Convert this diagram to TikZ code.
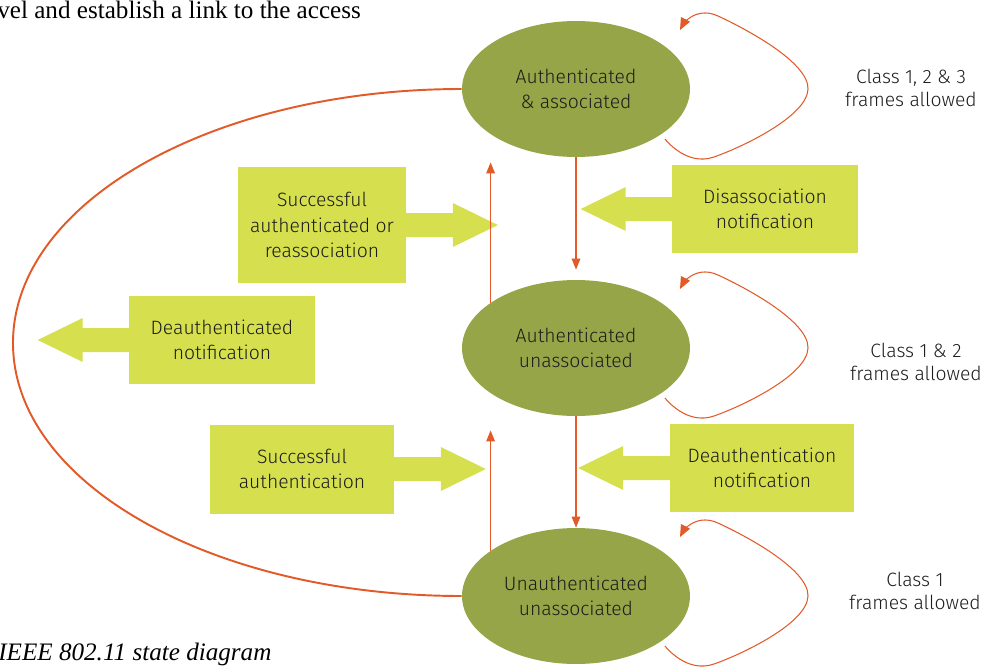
\documentclass[tikz,border=0pt]{standalone}
\usepackage{fontspec}
\setmainfont{Liberation Serif}
\newfontfamily\labelfont{Fira Sans}[UprightFont=* Light]
\usetikzlibrary{arrows.meta, calc, shapes.geometric}

\definecolor{stateolive}{RGB}{150,165,72}
\definecolor{notelime}{RGB}{214,224,78}
\definecolor{linkorange}{RGB}{226,90,40}
\definecolor{labelgray}{RGB}{28,28,28}

\tikzset{
    state/.style={ellipse, fill=stateolive, minimum width=4.56cm, minimum height=2.72cm,
        inner sep=0pt, align=center, text=labelgray, font=\labelfont\fontsize{11}{14.3}\selectfont},
    note/.style={fill=notelime, inner sep=0pt, align=center, text=labelgray,
        font=\labelfont\fontsize{11}{14.3}\selectfont},
    info/.style={align=center, text=labelgray, font=\labelfont\fontsize{11}{12.8}\selectfont},
    trans/.style={draw=linkorange, line width=0.85pt, -{Triangle[length=0.22cm, width=0.17cm]}},
    stayloop/.style={draw=linkorange, line width=0.6pt, -{Triangle[length=0.24cm, width=0.2cm]}}
}

% block arrow leaving a note box: #1 anchor, #2 direction (1 right, -1 left)
\newcommand{\notearrow}[2]{%
    \fill[notelime] (#1) ++({-2*(#2)},-12) -- ++({48*(#2)},0) -- ++(0,-10)
        -- ++({45*(#2)},22) -- ++({-45*(#2)},22) -- ++(0,-10) -- ++({-48*(#2)},0) -- cycle;}

\begin{document}
\begin{tikzpicture}[x=0.02cm, y=-0.02cm]
    \useasboundingbox (0,0) rectangle (986,666);

    % surrounding page text
    \node[anchor=base west, inner sep=0pt, font=\fontsize{14.3}{17}\selectfont] (lead) at (-3,18)
        {vel and establish a link to the access};
    \node[anchor=base west, inner sep=0pt, font=\itshape\fontsize{14.3}{17}\selectfont] (caption) at (-2,660)
        {IEEE 802.11 state diagram};

    % states
    \node[state] (auth) at (576,89) {Authenticated\\\& associated};
    \node[state] (authun) at (576,348) {Authenticated\\unassociated};
    \node[state] (unauth) at (576,596) {Unauthenticated\\unassociated};

    % frame classes
    \node[info] (cls3) at (911,88) {Class 1, 2 \& 3\\frames allowed};
    \node[info] (cls2) at (916,362) {Class 1 \& 2\\frames allowed};
    \node[info] (cls1) at (915,591) {Class 1\\frames allowed};

    % events
    \node[note, minimum width=3.38cm, minimum height=2.34cm] (assoc) at (322,225)
        {Successful\\authenticated or\\reassociation};
    \node[note, minimum width=3.72cm, minimum height=1.76cm] (disassoc) at (765,209)
        {Disassociation\\notification};
    \node[note, minimum width=3.72cm, minimum height=1.76cm] (deauthd) at (222,340)
        {Deauthenticated\\notification};
    \node[note, minimum width=3.70cm, minimum height=1.78cm] (authok) at (302,469)
        {Successful\\authentication};
    \node[note, minimum width=3.70cm, minimum height=1.76cm] (deauth) at (762,468)
        {Deauthentication\\notification};

    \notearrow{assoc.east}{1}
    \notearrow{disassoc.west}{-1}
    \notearrow{deauthd.west}{-1}
    \notearrow{authok.east}{1}
    \notearrow{deauth.west}{-1}

    % transitions between states
    \draw[trans, shorten >=0.28cm] (unauth.152) -- (unauth.152 |- authun.south);
    \draw[trans, shorten >=0.1cm] (authun.152) -- (authun.152 |- auth.south);
    \draw[trans, shorten >=0.2cm] (auth.south) -- (authun.north);
    \draw[trans] (authun.south) -- (unauth.north);

    % deauthentication from the top state
    \coordinate (farleft) at (13,343);
    \draw[linkorange, line width=1.1pt] (auth.west) .. controls +(-248,0) and +(0,-141) .. (farleft)
        .. controls +(0,141) and +(-248,0) .. (unauth.west);

    % each state keeps its own frames
    \foreach \s in {auth, authun, unauth} {
        \draw[stayloop] plot[smooth, tension=0.7] coordinates {($(\s)+(89,50)$) ($(\s)+(138,68)$)
            ($(\s)+(232,0)$) ($(\s)+(142,-73)$) ($(\s)+(104,-59)$)};
    }
\end{tikzpicture}
\end{document}
